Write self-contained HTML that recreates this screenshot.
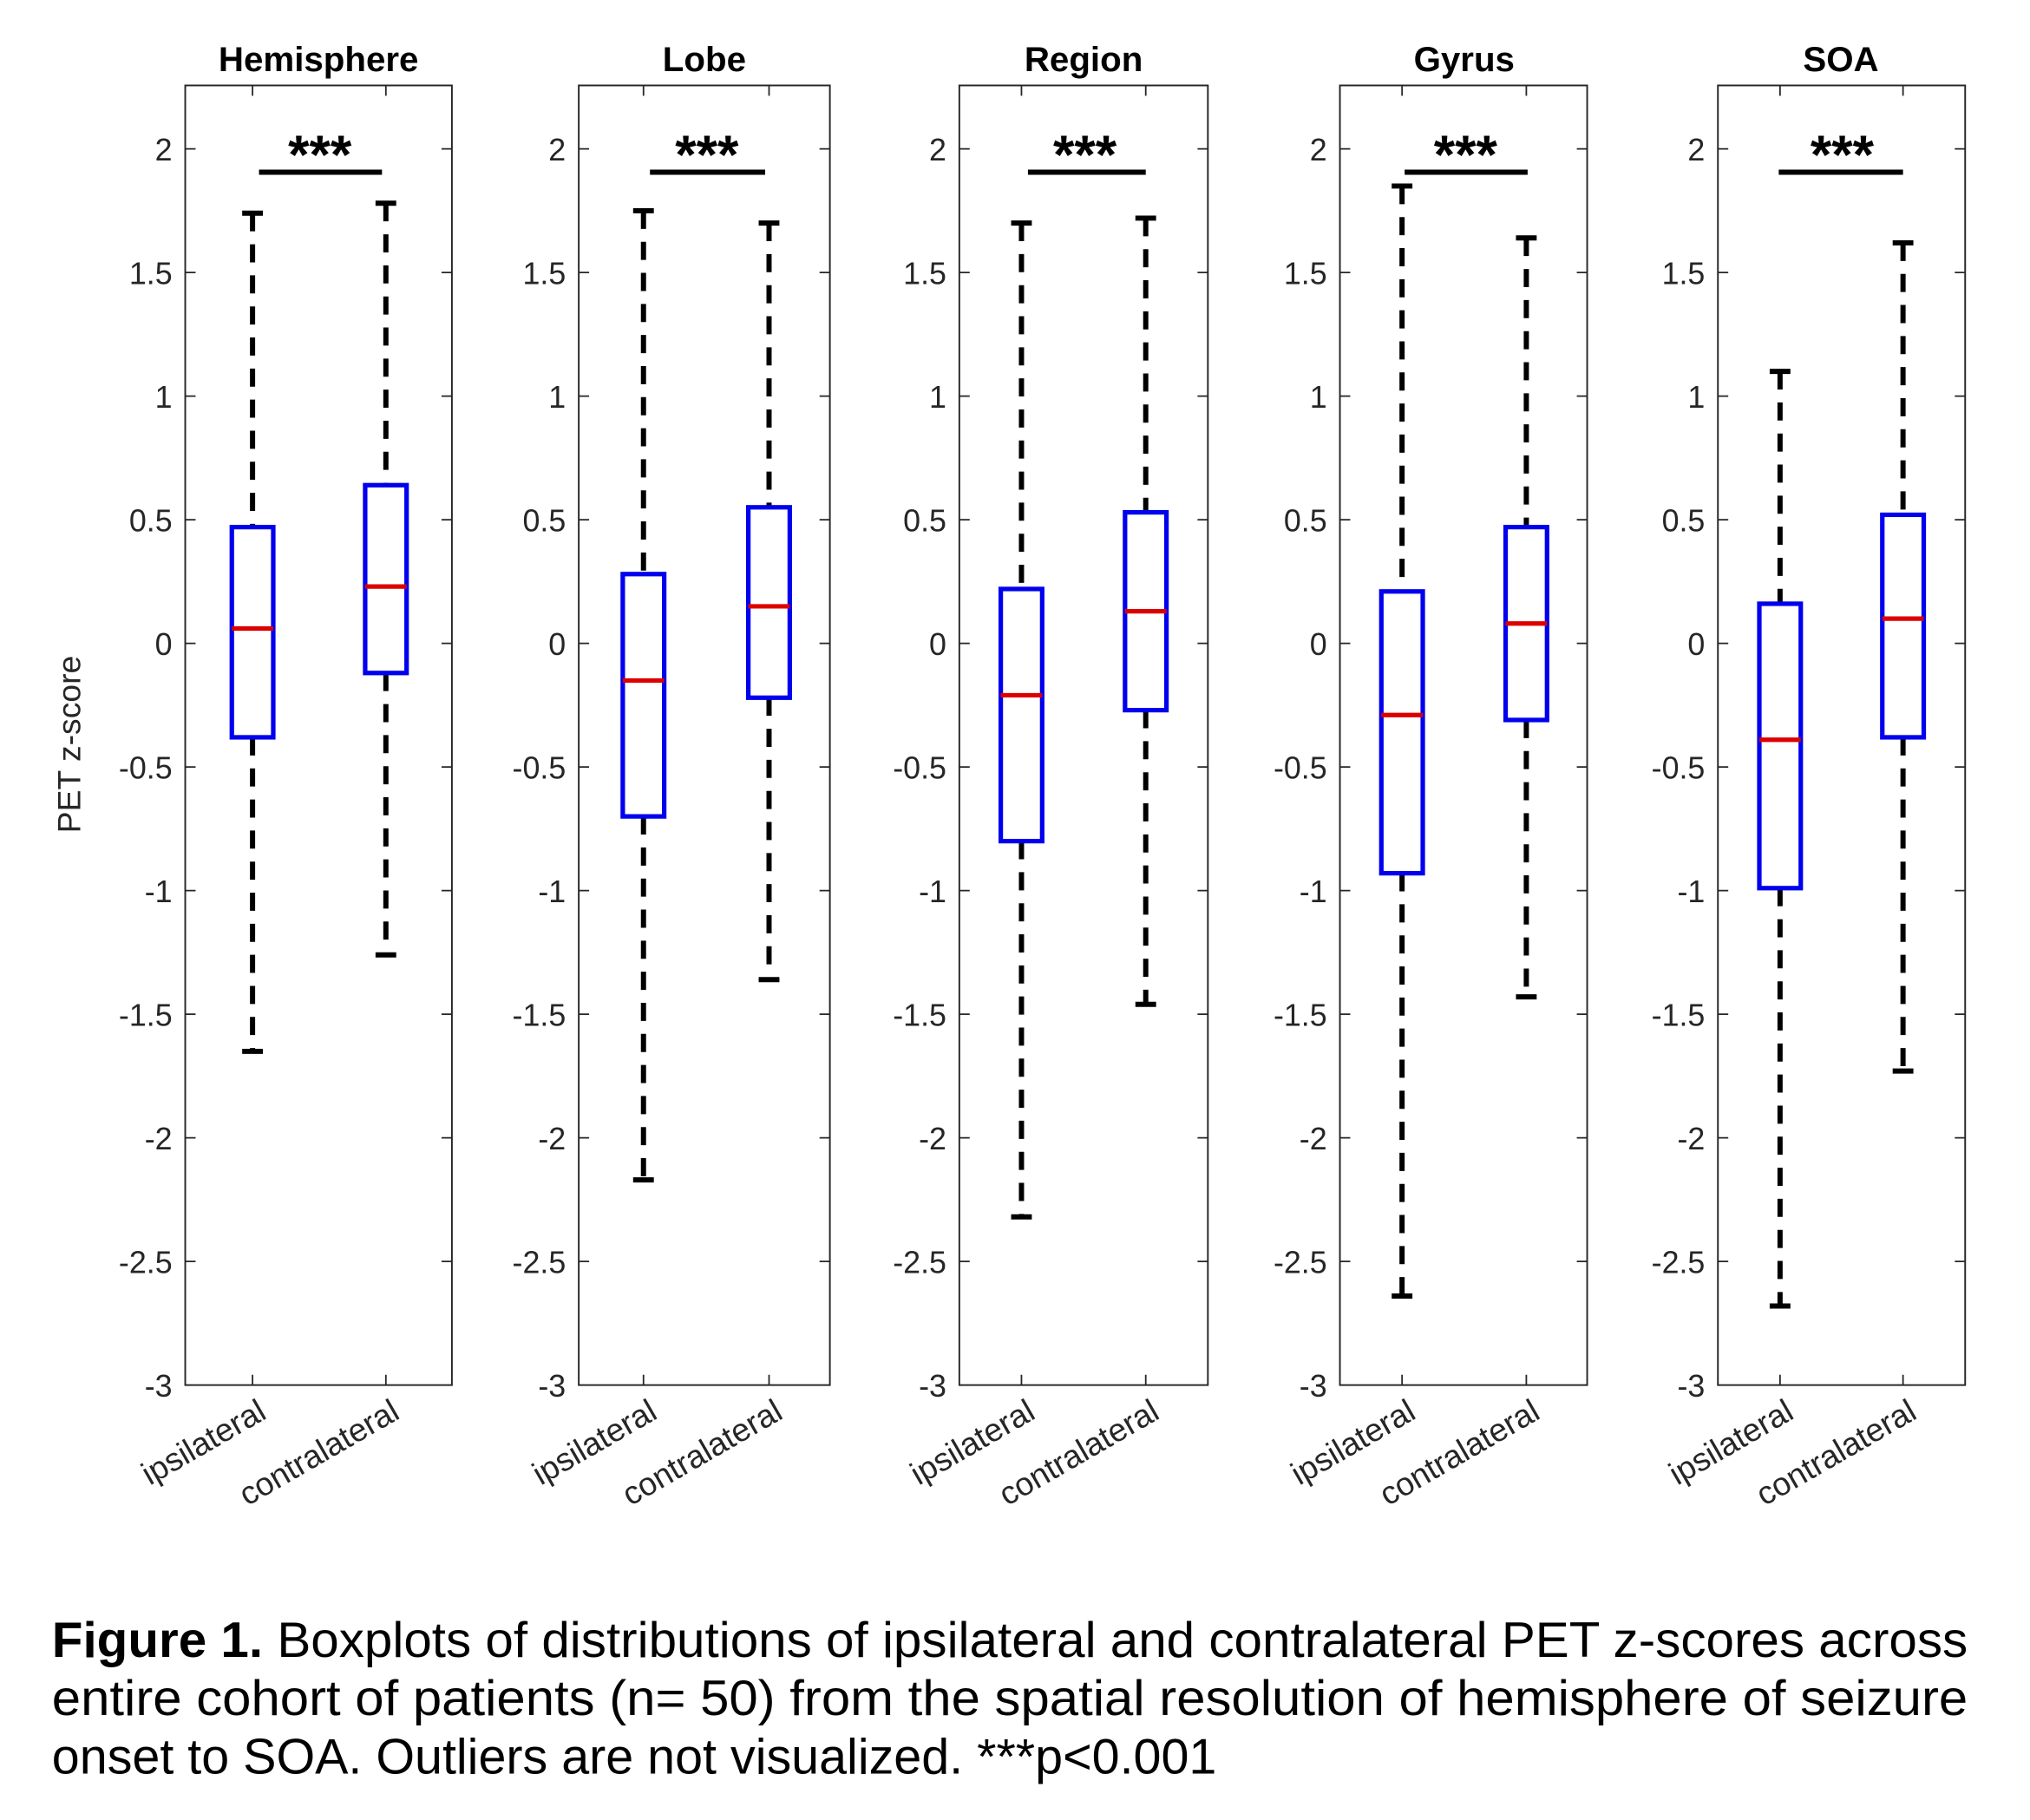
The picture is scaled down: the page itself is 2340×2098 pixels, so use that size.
<!DOCTYPE html>
<html><head><meta charset="utf-8"><style>html,body{margin:0;padding:0;background:#fff}svg{display:block}</style></head>
<body>
<svg width="2340" height="2098" viewBox="0 0 1568 1406" xmlns="http://www.w3.org/2000/svg" font-family="Liberation Sans, Arial, sans-serif">
<defs>
<path id="lt" d="M0 115h8M0 210.5h8M0 306h8M0 401.5h8M0 497h8M0 592.5h8M0 688h8M0 783.5h8M0 879h8M0 974.5h8" stroke="#262626" stroke-width="1.2" fill="none"/>
<g id="yl" fill="#262626" font-size="24" text-anchor="end">
<text x="-10" y="124">2</text><text x="-10" y="219.5">1.5</text><text x="-10" y="315">1</text><text x="-10" y="410.5">0.5</text><text x="-10" y="506">0</text><text x="-10" y="601.5">-0.5</text><text x="-10" y="697">-1</text><text x="-10" y="792.5">-1.5</text><text x="-10" y="888">-2</text><text x="-10" y="983.5">-2.5</text><text x="-10" y="1079">-3</text>
</g>
</defs>
<rect width="1568" height="1406" fill="#fff"/>
<text transform="translate(62,575) rotate(-90)" font-size="25" fill="#262626" text-anchor="middle">PET z-score</text>

<!-- Panel 1 -->
<g transform="translate(143,0)">
<text x="103" y="55" font-size="27" font-weight="bold" text-anchor="middle">Hemisphere</text>
<rect x="0" y="66" width="206" height="1004" fill="none" stroke="#262626" stroke-width="1.3"/>
<use href="#lt"/><use href="#lt" transform="translate(206,0) scale(-1,1)"/>
<path d="M52 66v8M155 66v8M52 1070v-8M155 1070v-8" stroke="#262626" stroke-width="1.2"/>
<use href="#yl"/>
<g stroke="#000" stroke-width="4" fill="none">
<path d="M52 164.7V407.2M52 569.6V812.2M155 157V374.8M155 519.9V737.7" stroke-dasharray="14,10"/>
<path d="M44 164.7h16M44 812.2h16M147 157h16M147 737.7h16"/>
<path d="M57 133H152"/>
</g>
<g stroke="#0000ee" stroke-width="3.5" fill="none"><rect x="36" y="407.2" width="32" height="162.4"/><rect x="139" y="374.8" width="32" height="145.1"/></g>
<path d="M36 485.5h32M139 453.1h32" stroke="#dd0000" stroke-width="3.5"/>
<text x="104" y="134" font-size="42" font-weight="bold" text-anchor="middle">***</text>
<g fill="#262626" font-size="25" text-anchor="end"><text transform="translate(64,1095) rotate(-30)">ipsilateral</text><text transform="translate(167,1095) rotate(-30)">contralateral</text></g>
</g>

<!-- Panel 2 -->
<g transform="translate(447,0)">
<text x="97" y="55" font-size="27" font-weight="bold" text-anchor="middle">Lobe</text>
<rect x="0" y="66" width="194" height="1004" fill="none" stroke="#262626" stroke-width="1.3"/>
<use href="#lt"/><use href="#lt" transform="translate(194,0) scale(-1,1)"/>
<path d="M50 66v8M147 66v8M50 1070v-8M147 1070v-8" stroke="#262626" stroke-width="1.2"/>
<use href="#yl"/>
<g stroke="#000" stroke-width="4" fill="none">
<path d="M50 162.8V443.5M50 630.7V911.5M147 172.3V391.9M147 539V756.8" stroke-dasharray="14,10"/>
<path d="M42 162.8h16M42 911.5h16M139 172.3h16M139 756.8h16"/>
<path d="M55 133H144"/>
</g>
<g stroke="#0000ee" stroke-width="3.5" fill="none"><rect x="34" y="443.5" width="32" height="187.2"/><rect x="131" y="391.9" width="32" height="147.1"/></g>
<path d="M34 525.7h32M131 468.4h32" stroke="#dd0000" stroke-width="3.5"/>
<text x="99" y="134" font-size="42" font-weight="bold" text-anchor="middle">***</text>
<g fill="#262626" font-size="25" text-anchor="end"><text transform="translate(62,1095) rotate(-30)">ipsilateral</text><text transform="translate(159,1095) rotate(-30)">contralateral</text></g>
</g>

<!-- Panel 3 -->
<g transform="translate(741,0)">
<text x="96" y="55" font-size="27" font-weight="bold" text-anchor="middle">Region</text>
<rect x="0" y="66" width="192" height="1004" fill="none" stroke="#262626" stroke-width="1.3"/>
<use href="#lt"/><use href="#lt" transform="translate(192,0) scale(-1,1)"/>
<path d="M48 66v8M144 66v8M48 1070v-8M144 1070v-8" stroke="#262626" stroke-width="1.2"/>
<use href="#yl"/>
<g stroke="#000" stroke-width="4" fill="none">
<path d="M48 172.3V455M48 649.8V940.1M144 168.5V395.8M144 548.6V775.9" stroke-dasharray="14,10"/>
<path d="M40 172.3h16M40 940.1h16M136 168.5h16M136 775.9h16"/>
<path d="M53 133H144"/>
</g>
<g stroke="#0000ee" stroke-width="3.5" fill="none"><rect x="32" y="455" width="32" height="194.8"/><rect x="128" y="395.8" width="32" height="152.8"/></g>
<path d="M32 537.1h32M128 472.2h32" stroke="#dd0000" stroke-width="3.5"/>
<text x="97" y="134" font-size="42" font-weight="bold" text-anchor="middle">***</text>
<g fill="#262626" font-size="25" text-anchor="end"><text transform="translate(60,1095) rotate(-30)">ipsilateral</text><text transform="translate(156,1095) rotate(-30)">contralateral</text></g>
</g>

<!-- Panel 4 -->
<g transform="translate(1035,0)">
<text x="96" y="55" font-size="27" font-weight="bold" text-anchor="middle">Gyrus</text>
<rect x="0" y="66" width="191" height="1004" fill="none" stroke="#262626" stroke-width="1.3"/>
<use href="#lt"/><use href="#lt" transform="translate(191,0) scale(-1,1)"/>
<path d="M48 66v8M144 66v8M48 1070v-8M144 1070v-8" stroke="#262626" stroke-width="1.2"/>
<use href="#yl"/>
<g stroke="#000" stroke-width="4" fill="none">
<path d="M48 143.7V456.9M48 674.6V1001.2M144 183.8V407.2M144 556.2V770.1" stroke-dasharray="14,10"/>
<path d="M40 143.7h16M40 1001.2h16M136 183.8h16M136 770.1h16"/>
<path d="M50 133H145"/>
</g>
<g stroke="#0000ee" stroke-width="3.5" fill="none"><rect x="32" y="456.9" width="32" height="217.7"/><rect x="128" y="407.2" width="32" height="149"/></g>
<path d="M32 552.4h32M128 481.7h32" stroke="#dd0000" stroke-width="3.5"/>
<text x="97" y="134" font-size="42" font-weight="bold" text-anchor="middle">***</text>
<g fill="#262626" font-size="25" text-anchor="end"><text transform="translate(60,1095) rotate(-30)">ipsilateral</text><text transform="translate(156,1095) rotate(-30)">contralateral</text></g>
</g>

<!-- Panel 5 -->
<g transform="translate(1327,0)">
<text x="95" y="55" font-size="27" font-weight="bold" text-anchor="middle">SOA</text>
<rect x="0" y="66" width="191" height="1004" fill="none" stroke="#262626" stroke-width="1.3"/>
<use href="#lt"/><use href="#lt" transform="translate(191,0) scale(-1,1)"/>
<path d="M48 66v8M143 66v8M48 1070v-8M143 1070v-8" stroke="#262626" stroke-width="1.2"/>
<use href="#yl"/>
<g stroke="#000" stroke-width="4" fill="none">
<path d="M48 286.9V466.4M48 686.1V1008.9M143 187.6V397.7M143 569.6V827.4" stroke-dasharray="14,10"/>
<path d="M40 286.9h16M40 1008.9h16M135 187.6h16M135 827.4h16"/>
<path d="M47 133H143"/>
</g>
<g stroke="#0000ee" stroke-width="3.5" fill="none"><rect x="32" y="466.4" width="32" height="219.7"/><rect x="127" y="397.7" width="32" height="171.9"/></g>
<path d="M32 571.5h32M127 477.9h32" stroke="#dd0000" stroke-width="3.5"/>
<text x="96" y="134" font-size="42" font-weight="bold" text-anchor="middle">***</text>
<g fill="#262626" font-size="25" text-anchor="end"><text transform="translate(60,1095) rotate(-30)">ipsilateral</text><text transform="translate(155,1095) rotate(-30)">contralateral</text></g>
</g>

<!-- Caption -->
<g font-size="38.5" fill="#000">
<text x="40" y="1280" textLength="1480" lengthAdjust="spacingAndGlyphs"><tspan font-weight="bold">Figure 1.</tspan> Boxplots of distributions of ipsilateral and contralateral PET z-scores across</text>
<text x="40" y="1325" textLength="1480" lengthAdjust="spacingAndGlyphs">entire cohort of patients (n= 50) from the spatial resolution of hemisphere of seizure</text>
<text x="40" y="1370">onset to SOA. Outliers are not visualized. ***p&lt;0.001</text>
</g>
</svg>
</body></html>
